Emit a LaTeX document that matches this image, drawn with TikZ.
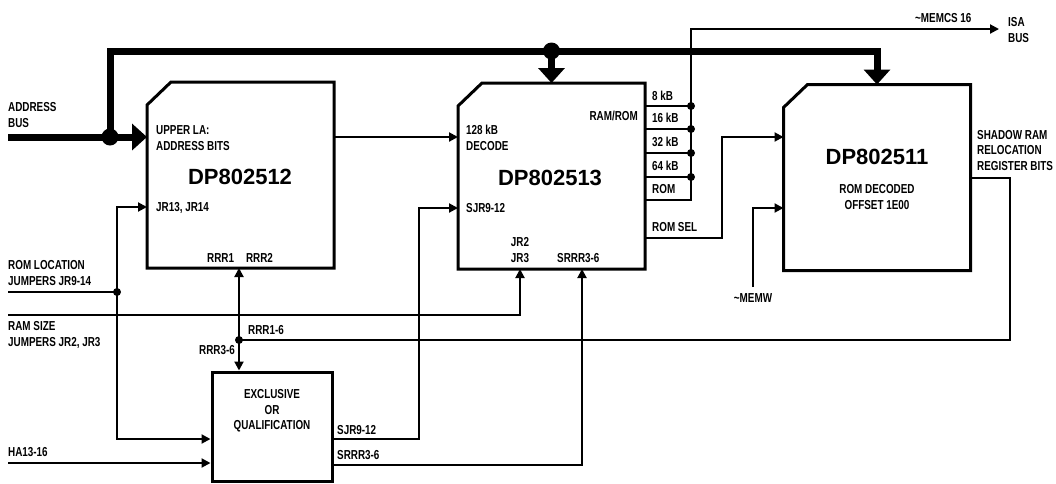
\documentclass[tikz,border=0pt]{standalone}
\usepackage{fontspec}
\setmainfont{Liberation Sans}[FakeStretch=0.76]
\newfontfamily\chipfont{Liberation Sans}
\usetikzlibrary{arrows.meta, calc}

\tikzset{
  chip/.style={rectangle, minimum width=187pt, minimum height=186pt,
    inner sep=0pt, outer sep=0pt},
  chipline/.style={line width=3pt, line join=miter},
  logicbox/.style={rectangle, draw, line width=3pt, minimum width=120pt,
    minimum height=109pt, inner sep=0pt},
  lbl/.style={font=\bfseries\fontsize{13}{15.5}\selectfont, inner sep=0pt, align=left},
  ctrlbl/.style={lbl, align=center},
  chipname/.style={font=\chipfont\bfseries\fontsize{22}{24}\selectfont, inner sep=0pt},
  wire/.style={line width=2pt},
  sig/.style={wire, -{Triangle[length=9pt,width=9pt]}},
  bisig/.style={wire, {Triangle[length=9pt,width=9pt]}-{Triangle[length=9pt,width=9pt]}},
  bus/.style={line width=7pt, -{Triangle[length=15pt,width=26pt]}},
  busdot/.style={circle, fill, minimum size=17pt, inner sep=0pt},
  jdot/.style={circle, fill, minimum size=8pt, inner sep=0pt},
}

\begin{document}
\begin{tikzpicture}[x=1pt, y=-1pt]
  \useasboundingbox (0,0) rectangle (1056,483);

  % blocks
  \node[chip] (u12) at (240.5,175) {};
  \node[chip] (u13) at (551.5,176) {};
  \node[chip] (u11) at (877,177.5) {};
  \node[logicbox] (xorq) at (272,426.5) {};
  \foreach \c in {u12,u13,u11}
    \draw[chipline] ($(\c.north west)+(0,23)$) -- ($(\c.north west)+(24,0)$)
      -- (\c.north east) -- (\c.south east) -- (\c.south west) -- cycle;

  % address bus
  \coordinate (abus) at (8,137);
  \coordinate (btop) at (110,51);
  \node[busdot] (bj1) at (110,137) {};
  \node[busdot] (bj2) at (u13.north |- btop) {};
  \draw[bus] (abus) -- (abus -| u12.west);
  \draw[bus] (bj1.center) -- (btop) -| (u11.north);
  \draw[bus] (bj2.center) -- (u13.north);

  % DP802513 size outputs
  \coordinate (isa) at (999,29);
  \draw[sig] (u13.east |- 0,200) -| (691,29) -- (isa);
  \foreach \y in {106,129,153,177} {
    \draw[wire] (u13.east |- 0,\y) -- (691,\y);
    \node[jdot] (sz\y) at (691,\y) {};
  }

  % signals
  \draw[sig] (u12.east |- 0,137) -- (u13.west |- 0,137);
  \draw[sig] (u13.east |- 0,238) -| (722,137) -- (u11.west |- 0,137);
  \coordinate (memw) at (753,287);
  \draw[sig] (memw) |- (u11.west |- 0,208);
  \node[jdot] (rj) at (239,340) {};
  \draw[wire] (u11.east |- 0,178) -| (1010,340) -- (rj.center);
  \draw[bisig] (239,0 |- u12.south) -- (239,0 |- xorq.north);

  \coordinate (romloc) at (8,292);
  \node[jdot] (lj) at (117,292) {};
  \draw[wire] (romloc) -- (lj.center);
  \draw[sig] (lj.center) |- (u12.west |- 0,207);
  \draw[sig] (lj.center) |- (xorq.west |- 0,439);

  \coordinate (ramsz) at (8,315);
  \draw[sig] (ramsz) -| (520,0 |- u13.south);
  \coordinate (ha) at (8,463);
  \draw[sig] (ha) -- (ha -| xorq.west);

  \draw[sig] (xorq.east |- 0,439) -| (419,208) -- (u13.west |- 0,208);
  \draw[sig] (xorq.east |- 0,465) -| (582,0 |- u13.south);

  % labels
  \node[lbl, anchor=west] (t-addr) at (8,115) {ADDRESS\\BUS};
  \node[lbl, anchor=west] (t-romloc) at (8,273) {ROM LOCATION\\JUMPERS JR9-14};
  \node[lbl, anchor=west] (t-ramsz) at (8,335) {RAM SIZE\\JUMPERS JR2, JR3};
  \node[lbl, anchor=west] (t-ha) at (8,452) {HA13-16};

  \node[lbl, anchor=west] (t-upper) at (156,138) {UPPER LA:\\ADDRESS BITS};
  \node[chipname] (n-u12) at (240,177) {DP802512};
  \node[lbl, anchor=west] (t-jr13) at (156,208) {JR13, JR14};
  \node[lbl, anchor=west] (t-rrr) at (207,258) {RRR1\hspace{12pt}RRR2};
  \node[lbl, anchor=west] (t-rrr16) at (248,330) {RRR1-6};
  \node[lbl, anchor=east] (t-rrr36) at (235,350) {RRR3-6};

  \node[ctrlbl] (t-xor) at (272,411) {EXCLUSIVE\\OR\\QUALIFICATION};
  \node[lbl, anchor=west] (t-sjr) at (337,430) {SJR9-12};
  \node[lbl, anchor=west] (t-srrr) at (337,455) {SRRR3-6};

  \node[lbl, anchor=west] (t-128) at (466,138) {128 kB\\DECODE};
  \node[chipname] (n-u13) at (550,178) {DP802513};
  \node[lbl, anchor=west] (t-sjr2) at (466,208) {SJR9-12};
  \node[ctrlbl] (t-jr23) at (520,250) {JR2\\JR3};
  \node[lbl, anchor=west] (t-srrr2) at (557,258) {SRRR3-6};
  \node[lbl, anchor=east] (t-ramrom) at (638,116) {RAM/ROM};
  \node[lbl, anchor=west] (t-8k) at (652,96) {8 kB};
  \node[lbl, anchor=west] (t-16k) at (652,118) {16 kB};
  \node[lbl, anchor=west] (t-32k) at (652,142) {32 kB};
  \node[lbl, anchor=west] (t-64k) at (652,166) {64 kB};
  \node[lbl, anchor=west] (t-rom) at (652,189) {ROM};
  \node[lbl, anchor=west] (t-romsel) at (652,227) {ROM SEL};

  \node[lbl, anchor=west] (t-memcs) at (915,18) {\textasciitilde MEMCS 16};
  \node[lbl, anchor=west] (t-isa) at (1008,30) {ISA\\BUS};
  \node[chipname] (n-u11) at (877,157) {DP802511};
  \node[ctrlbl] (t-romdec) at (877,197) {ROM DECODED\\OFFSET 1E00};
  \node[ctrlbl] (t-memw) at (753,298) {\textasciitilde MEMW};
  \node[lbl, anchor=west] (t-shadow) at (977,150.5) {SHADOW RAM\\RELOCATION\\REGISTER BITS};
\end{tikzpicture}
\end{document}
